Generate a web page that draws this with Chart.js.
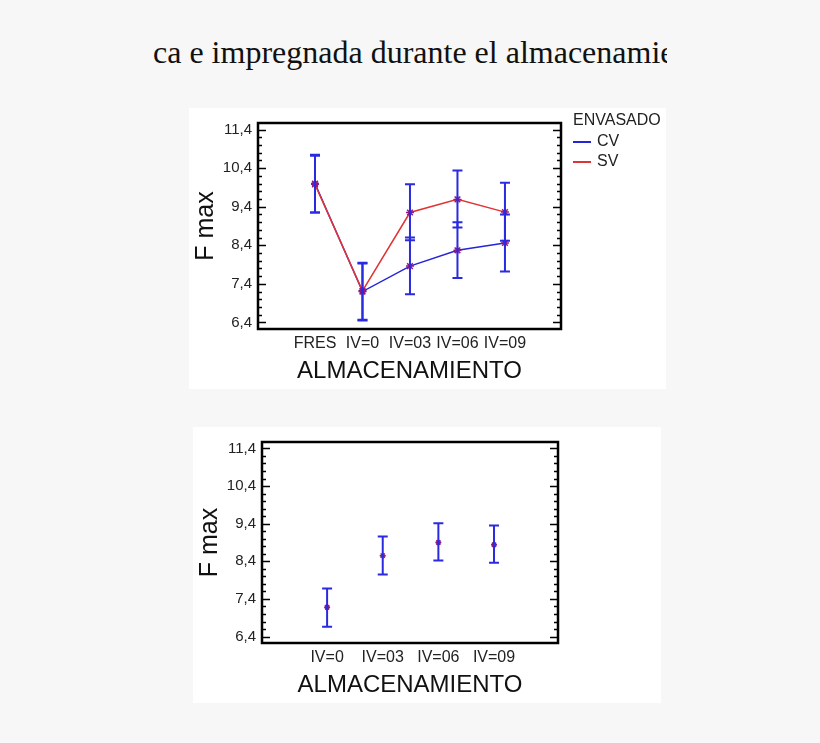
<!DOCTYPE html>
<html><head><meta charset="utf-8">
<script src="https://cdn.jsdelivr.net/npm/chart.js@4/dist/chart.umd.min.js"></script>
<style>
body{margin:0;background:#f7f7f7;width:820px;height:743px;position:relative;overflow:hidden;font-family:"Liberation Sans",Arial,sans-serif}
.title{position:absolute;left:153px;top:34px;width:514px;overflow:hidden;white-space:nowrap;font-family:"Liberation Serif","Times New Roman",serif;font-size:32px;color:#111}
.panel{position:absolute;background:#fff}
.leg{position:absolute;font-size:16px;color:#222;white-space:nowrap}
</style></head><body>
<div class="title">ca e impregnada durante el almacenamiento</div>
<div class="panel" style="left:189px;top:108px;width:477px;height:281px"><canvas id="c1" width="477" height="281"></canvas>
<div class="leg" style="left:384px;top:3px;width:93px;overflow:hidden">ENVASADO</div>
<div class="leg" style="left:384px;top:24px"><span style="display:inline-block;width:18px;border-top:2px solid #2424d8;vertical-align:middle;margin-right:6px"></span>CV</div>
<div class="leg" style="left:384px;top:44px"><span style="display:inline-block;width:18px;border-top:2px solid #e03434;vertical-align:middle;margin-right:6px"></span>SV</div>
</div>
<div class="panel" style="left:193px;top:427px;width:468px;height:276px"><canvas id="c2" width="468" height="276"></canvas></div>
<script>
const cats1=["FRES","IV=0","IV=03","IV=06","IV=09"];
const cvMean=[10.0,7.2,7.86,8.27,8.46];
const cvLo=[9.25,6.45,7.13,7.55,7.72];
const cvHi=[10.75,7.95,8.6,9.0,9.2];
const svMean=[9.98,7.22,9.25,9.59,9.26];
const svLo=[9.25,6.47,8.53,8.86,8.52];
const svHi=[10.72,7.93,9.98,10.34,10.02];
const cats2=["IV=0","IV=03","IV=06","IV=09"];
const m2=[7.18,8.55,8.9,8.84];
const lo2=[6.66,8.05,8.42,8.36];
const hi2=[7.68,9.06,9.41,9.35];
const yMajor=[6.4,7.4,8.4,9.4,10.4,11.4];

const frame={id:'frame',afterDatasetsDraw(ch,a,opt){
  const c=ch.ctx,ar=ch.chartArea,y=ch.scales.y,x=ch.scales.x;
  c.save();
  c.strokeStyle='#2a2ae0';c.lineWidth=2;
  (opt.bars||[]).forEach(b=>{b.lo.forEach((l,i)=>{const px=x.getPixelForValue(i);const p1=y.getPixelForValue(l),p2=y.getPixelForValue(b.hi[i]);
    c.beginPath();c.moveTo(px,p1);c.lineTo(px,p2);c.moveTo(px-5,p1);c.lineTo(px+5,p1);c.moveTo(px-5,p2);c.lineTo(px+5,p2);c.stroke();});});
  c.strokeStyle='#000';c.lineWidth=1.5;
  for(let v=6.4;v<=11.41;v+=0.2){const py=Math.round(y.getPixelForValue(v))+0.5;const maj=yMajor.some(m=>Math.abs(m-v)<0.01);const L=maj?8:4;
    c.beginPath();c.moveTo(ar.left,py);c.lineTo(ar.left+L,py);c.moveTo(ar.right,py);c.lineTo(ar.right-L,py);c.stroke();}
  c.lineWidth=2.5;c.strokeRect(ar.left,ar.top,ar.right-ar.left,ar.bottom-ar.top);
  c.restore();
}};
function make(id,cats,datasets,bars,xmin,xmax){
  new Chart(document.getElementById(id),{type:'line',data:{datasets},
  options:{responsive:false,animation:false,layout:{padding:{top:0,right:id==='c1'?105:103,left:0,bottom:0}},
   plugins:{legend:{display:false},tooltip:{enabled:false},frame:{bars}},
   scales:{
    x:{type:'linear',min:xmin,max:xmax,grid:{display:false,drawTicks:false},border:{display:false},
       afterBuildTicks:s=>{s.ticks=cats.map((c,i)=>({value:i}));},
       afterFit:s=>{s.height=60;},
       ticks:{padding:5,autoSkip:false,maxRotation:0,color:'#222',font:{family:'Liberation Sans',size:16},callback:v=>cats[v]},
       title:{display:true,text:'ALMACENAMIENTO',color:'#111',font:{family:'Liberation Sans',size:24},padding:{top:0,bottom:3}}},
    y:{min:6.23,max:11.57,grid:{display:false,drawTicks:false},border:{display:false},
       afterBuildTicks:s=>{s.ticks=yMajor.map(v=>({value:v}));},
       afterFit:s=>{s.width=69;},
       ticks:{padding:6,color:'#222',font:{family:'Liberation Sans',size:15},callback:v=>v.toFixed(1).replace('.',',')},
       title:{display:true,text:'F max',color:'#111',font:{family:'Liberation Sans',size:25},padding:{top:2,bottom:0}}}
   }},plugins:[frame]});
}
const pt=(arr)=>arr.map((v,i)=>({x:i,y:v}));
make('c1',cats1,[
 {data:pt(svMean),borderColor:'#e03434',borderWidth:1.5,pointStyle:'star',pointRadius:4,pointBorderColor:'#8a1a8a',pointBorderWidth:1.5,fill:false},
 {data:pt(cvMean),borderColor:'#2424d8',borderWidth:1.5,pointStyle:'star',pointRadius:4,pointBorderColor:'#8a1a8a',pointBorderWidth:1.5,fill:false}
],[{lo:cvLo,hi:cvHi},{lo:svLo,hi:svHi}],-1.2,5.18);
make('c2',cats2,[
 {data:pt(m2),showLine:false,pointStyle:'star',pointRadius:3,pointBorderColor:'#8a1a8a',pointBorderWidth:1.5}
],[{lo:lo2,hi:hi2}],-1.17,4.15);
</script></body></html>
